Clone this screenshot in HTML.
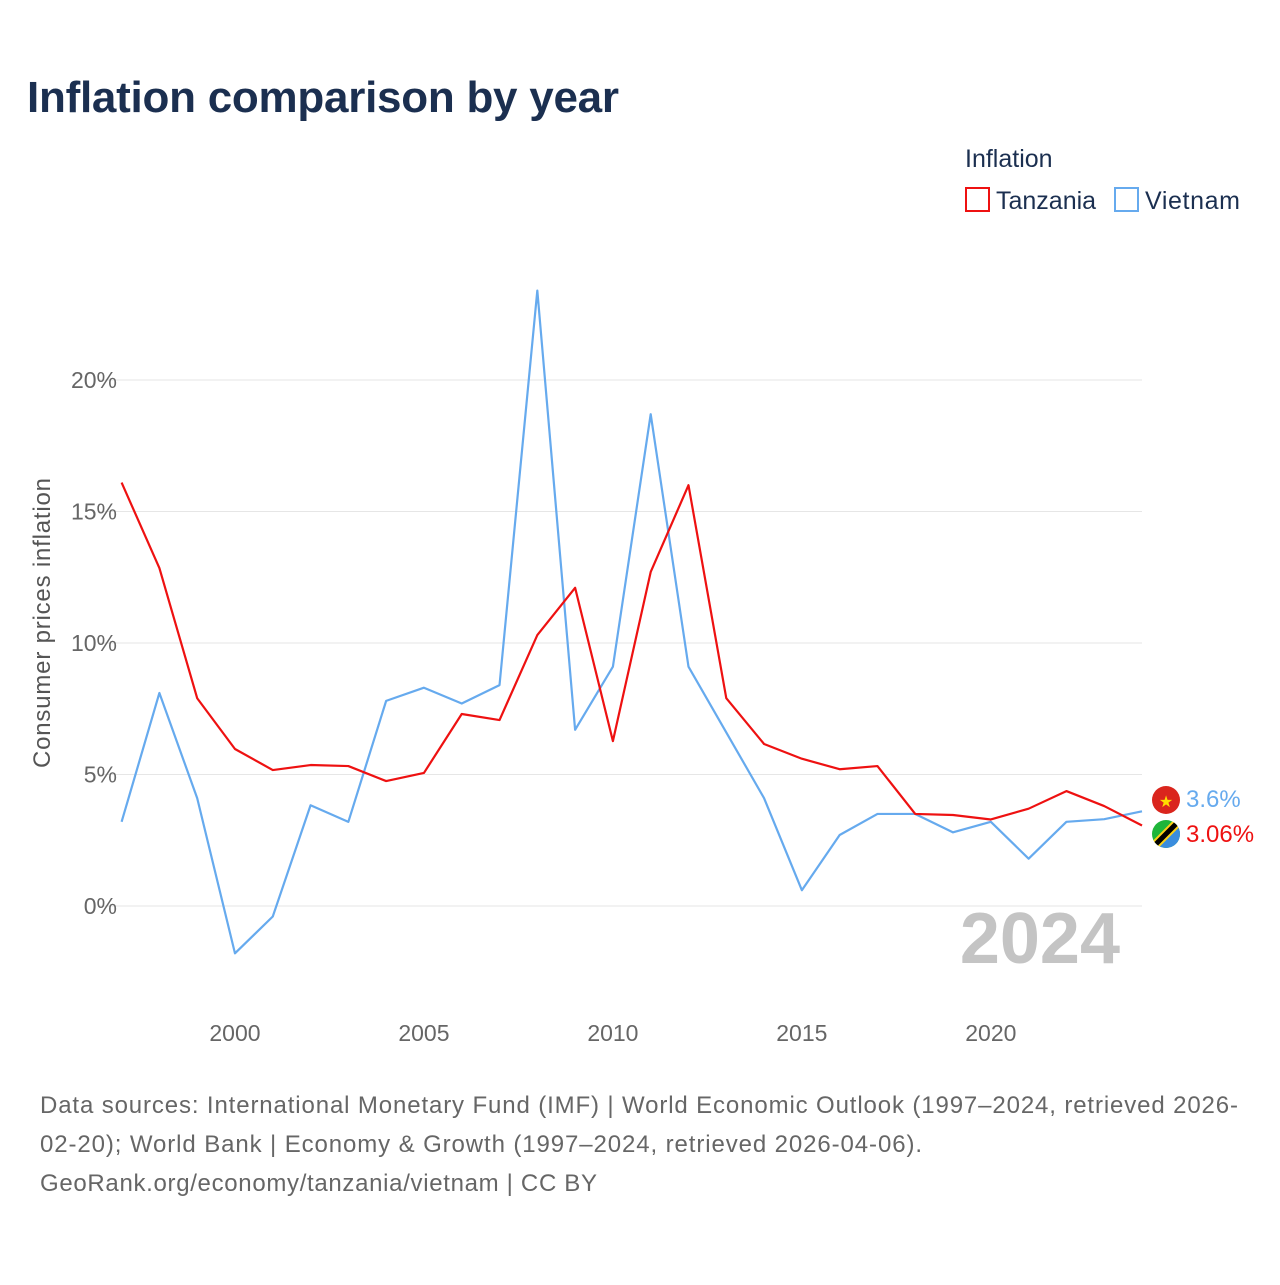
<!DOCTYPE html>
<html><head><meta charset="utf-8"><style>
body{margin:0;background:#fff;font-family:"Liberation Sans",sans-serif;}
</style></head><body>
<svg id="chart" width="1280" height="1280" xmlns="http://www.w3.org/2000/svg" style="font-family:'Liberation Sans',sans-serif">
<text x="27" y="112" font-size="44" font-weight="bold" fill="#1b2f50" textLength="592">Inflation comparison by year</text>
<text x="965" y="167" font-size="25" fill="#1b2f50">Inflation</text>
<g><rect x="966" y="188" width="23" height="23" fill="none" stroke="#ee1111" stroke-width="2"/><text x="996" y="209" font-size="25" fill="#1b2f50">Tanzania</text></g>
<g><rect x="1115" y="188" width="23" height="23" fill="none" stroke="#66aaee" stroke-width="2"/><text x="1145" y="209" font-size="25" fill="#1b2f50" textLength="95">Vietnam</text></g>
<g id="grid"></g>
<text x="0" y="0" transform="translate(50,623) rotate(-90)" text-anchor="middle" font-size="24" fill="#555" textLength="290">Consumer prices inflation</text>
<text x="1120" y="963" text-anchor="end" font-size="72" font-weight="bold" fill="#c4c4c4">2024</text>
<g id="series"></g>
<g><circle cx="1166" cy="800" r="14" fill="#da251d"/><text x="1166" y="807" text-anchor="middle" font-size="16" fill="#ffdd00">★</text></g>
<g><clipPath id="tz"><circle cx="1166" cy="834" r="14"/></clipPath><g clip-path="url(#tz)"><rect x="1150" y="818" width="32" height="32" fill="#1eb53a"/><polygon points="1182,818 1182,850 1150,850" fill="#3a8dde"/><line x1="1150" y1="850" x2="1182" y2="818" stroke="#fcd116" stroke-width="9"/><line x1="1150" y1="850" x2="1182" y2="818" stroke="#000" stroke-width="5"/></g></g>
<text x="1186" y="807" font-size="24" fill="#66aaee">3.6%</text>
<text x="1186" y="842" font-size="24" fill="#ee1111">3.06%</text>
<text x="40" y="1113" font-size="24" fill="#666" textLength="1198">Data sources: International Monetary Fund (IMF) | World Economic Outlook (1997–2024, retrieved 2026-</text>
<text x="40" y="1152" font-size="24" fill="#666" textLength="882">02-20); World Bank | Economy &amp; Growth (1997–2024, retrieved 2026-04-06).</text>
<text x="40" y="1191" font-size="24" fill="#666" textLength="557">GeoRank.org/economy/tanzania/vietnam | CC BY</text>
</svg>
<script>
const years=[1997,1998,1999,2000,2001,2002,2003,2004,2005,2006,2007,2008,2009,2010,2011,2012,2013,2014,2015,2016,2017,2018,2019,2020,2021,2022,2023,2024];
const tanzania=[16.1,12.85,7.9,5.97,5.17,5.36,5.32,4.75,5.06,7.3,7.07,10.3,12.1,6.27,12.7,16.0,7.9,6.16,5.6,5.2,5.32,3.5,3.46,3.29,3.7,4.37,3.8,3.06];
const vietnam=[3.2,8.1,4.1,-1.8,-0.4,3.83,3.2,7.8,8.3,7.7,8.4,23.4,6.7,9.1,18.7,9.1,6.6,4.1,0.6,2.7,3.5,3.5,2.8,3.2,1.8,3.2,3.3,3.6];
const yTicks=[0,5,10,15,20];
const yTickLabels=["0%","5%","10%","15%","20%"];
const xTicks=[2000,2005,2010,2015,2020];
const NS="http://www.w3.org/2000/svg";
function xs(y){return 121.6+(y-1997)*(1142-121.6)/27;}
function ys(v){return 906-v*26.3;}
const grid=document.getElementById('grid');
yTicks.forEach((t,i)=>{
 const l=document.createElementNS(NS,'line');
 l.setAttribute('x1',98);l.setAttribute('x2',1142);l.setAttribute('y1',ys(t));l.setAttribute('y2',ys(t));
 l.setAttribute('stroke','#e6e6e6');l.setAttribute('stroke-width',1);
 
 
 grid.appendChild(l);
 const tx=document.createElementNS(NS,'text');
 tx.setAttribute('x',117);tx.setAttribute('y',ys(t)+8);tx.setAttribute('text-anchor','end');
 tx.setAttribute('font-size',23);tx.setAttribute('fill','#666');tx.textContent=yTickLabels[i];
 
 
 grid.appendChild(tx);
});
xTicks.forEach(t=>{
 const tx=document.createElementNS(NS,'text');
 tx.setAttribute('x',xs(t));tx.setAttribute('y',1041);tx.setAttribute('text-anchor','middle');
 tx.setAttribute('font-size',23);tx.setAttribute('fill','#666');tx.textContent=t;
 
 
 grid.appendChild(tx);
});
const series=document.getElementById('series');
function line(vals,color,name){
 const p=document.createElementNS(NS,'polyline');
 p.setAttribute('points',vals.map((v,i)=>xs(years[i])+','+ys(v)).join(' '));
 p.setAttribute('fill','none');p.setAttribute('stroke',color);p.setAttribute('stroke-width',2.2);
 p.setAttribute('stroke-linejoin','round');
 
 
 series.appendChild(p);
}
line(vietnam,'#66aaee','vietnam-line');
line(tanzania,'#ee1111','tanzania-line');
</script>
</body></html>
